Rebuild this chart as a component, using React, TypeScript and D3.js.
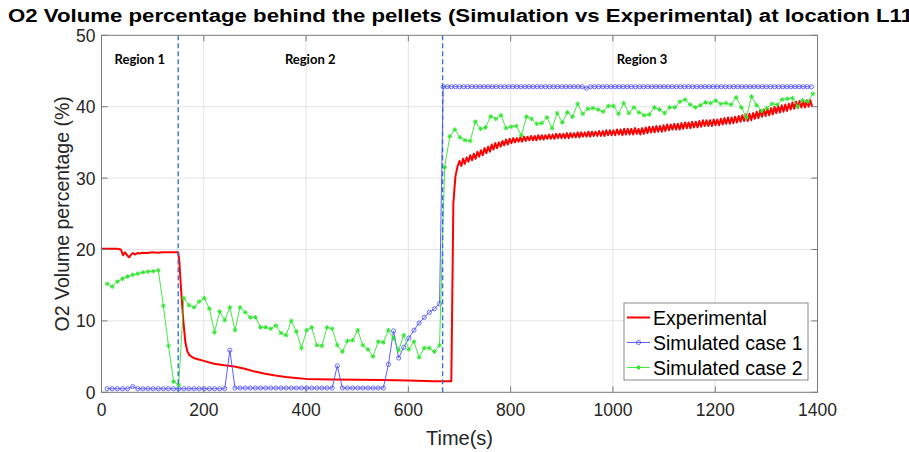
import React from "react";
import * as d3 from "d3";

// ---- Data ---------------------------------------------------------------

// Experimental O2 reading, smooth part (regions 1 and 2 plus the step up)
const expTime = [
  0, 10, 20, 30, 38, 42, 46, 50, 54, 58, 62, 66, 70, 75, 80, 90, 100, 110, 120,
  130, 140, 150, 152, 156, 160, 164, 168, 172, 180, 190, 200, 220, 240, 260,
  280, 300, 320, 340, 360, 380, 400, 450, 500, 550, 600, 650, 684, 686, 688,
  692, 696,
];
const expValue = [
  20.1, 20.1, 20.1, 20.1, 20.0, 19.2, 19.6, 19.2, 18.9, 19.3, 19.5, 19.3, 19.5,
  19.45, 19.55, 19.5, 19.6, 19.55, 19.6, 19.6, 19.6, 19.6, 18.5, 14.0, 10.0,
  7.0, 5.7, 5.2, 4.8, 4.6, 4.4, 4.0, 3.8, 3.6, 3.3, 2.9, 2.6, 2.35, 2.15, 2.0,
  1.88, 1.8, 1.75, 1.72, 1.65, 1.55, 1.55, 14.0, 26.5, 30.2, 31.6,
];

// Experimental reading in region 3, logged every 3.5 s from t = 700 s
const expRippleStart = 700;
const expRippleStep = 3.5;
const expRippleValue = [
  32.4, 31.7, 32.7, 32.0, 32.9, 32.3, 33.2, 32.5, 33.4, 32.7,
  33.7, 33.0, 33.9, 33.2, 34.2, 33.5, 34.4, 33.7, 34.7, 34.0,
  34.9, 34.2, 35.0, 34.4, 35.2, 34.6, 35.4, 34.7, 35.5, 34.9,
  35.6, 35.0, 35.6, 35.1, 35.7, 35.1, 35.8, 35.2, 35.8, 35.3,
  35.9, 35.3, 35.9, 35.3, 36.0, 35.4, 36.0, 35.4, 36.0, 35.5,
  36.1, 35.5, 36.1, 35.5, 36.2, 35.6, 36.2, 35.6, 36.2, 35.6,
  36.3, 35.6, 36.3, 35.7, 36.3, 35.7, 36.4, 35.7, 36.4, 35.8,
  36.4, 35.8, 36.5, 35.8, 36.5, 35.9, 36.5, 35.9, 36.6, 35.9,
  36.6, 35.9, 36.7, 36.0, 36.7, 36.0, 36.7, 36.0, 36.8, 36.1,
  36.8, 36.0, 36.9, 36.1, 36.9, 36.1, 36.9, 36.1, 37.0, 36.2,
  36.9, 36.1, 37.0, 36.2, 37.1, 36.3, 37.2, 36.4, 37.2, 36.4,
  37.3, 36.5, 37.3, 36.5, 37.4, 36.6, 37.5, 36.7, 37.5, 36.8,
  37.6, 36.8, 37.6, 36.8, 37.7, 36.9, 37.8, 37.0, 37.8, 37.0,
  37.9, 37.1, 37.9, 37.1, 38.0, 37.2, 38.1, 37.3, 38.1, 37.3,
  38.1, 37.3, 38.2, 37.4, 38.2, 37.4, 38.3, 37.5, 38.4, 37.6,
  38.5, 37.6, 38.5, 37.7, 38.6, 37.8, 38.7, 37.9, 38.8, 38.0,
  38.9, 38.0, 39.0, 38.1, 39.1, 38.3, 39.3, 38.4, 39.5, 38.6,
  39.6, 38.7, 39.7, 38.8, 39.8, 38.9, 40.0, 39.1, 40.1, 39.2,
  40.2, 39.3, 40.3, 39.4, 40.4, 39.6, 40.6, 39.7, 40.7, 39.8,
  40.8, 39.9, 40.8, 39.9, 40.9, 40.0, 40.9, 40.0,
];

// Simulated case 1: every 10 s from t = 11 s up to 661 s ...
const caseOneEarlyStart = 11;
const caseOneEarlyStep = 10;
const caseOneEarlyValue = [
  0.5, 0.5, 0.5, 0.5, 0.5, 0.8, 0.5, 0.5, 0.5, 0.5, 0.5, 0.5, 0.5, 0.5, 0.5,
  0.5, 0.5, 0.5, 0.5, 0.5, 0.5, 0.5, 0.5, 0.5, 5.9, 0.6, 0.6, 0.6, 0.6, 0.6,
  0.6, 0.6, 0.6, 0.6, 0.6, 0.6, 0.6, 0.6, 0.6, 0.6, 0.6, 0.6, 0.6, 0.6, 0.6,
  3.7, 0.6, 0.6, 0.6, 0.6, 0.6, 0.6, 0.6, 0.6, 0.6, 3.9, 8.6, 4.8, 6.3, 7.6,
  8.7, 9.7, 10.5, 11.2, 11.7, 12.4,
];
// ... then every 8 s from t = 668 s
const caseOneLateStart = 668;
const caseOneLateStep = 8;
const caseOneLateValue = [
  42.8, 42.8, 42.8, 42.8, 42.8, 42.8, 42.8, 42.8, 42.8, 42.8,
  42.8, 42.8, 42.8, 42.8, 42.8, 42.8, 42.8, 42.8, 42.8, 42.8,
  42.8, 42.8, 42.8, 42.8, 42.8, 42.8, 42.8, 42.8, 42.8, 42.8,
  42.8, 42.8, 42.8, 42.8, 42.8, 42.6, 42.8, 42.8, 42.8, 42.8,
  42.8, 42.8, 42.8, 42.8, 42.8, 42.8, 42.8, 42.8, 42.8, 42.8,
  42.8, 42.8, 42.8, 42.8, 42.8, 42.8, 42.8, 42.8, 42.8, 42.8,
  42.8, 42.8, 42.8, 42.8, 42.8, 42.8, 42.8, 42.8, 42.8, 42.8,
  42.8, 42.8, 42.8, 42.8, 42.8, 42.8, 42.8, 42.8, 42.8, 42.8,
  42.8, 42.8, 42.8, 42.8, 42.8, 42.8, 42.8, 42.8, 42.8, 42.8,
  42.8,
];

// Simulated case 2: every 10 s from t = 11 s
const caseTwoStart = 11;
const caseTwoStep = 10;
const caseTwoValue = [
  15.2, 14.8, 15.5, 15.9, 16.2, 16.45, 16.6, 16.8, 16.9, 16.95,
  17.1, 12.1, 6.5, 1.5, 1.0, 13.2, 12.2, 11.9, 12.7, 13.2,
  11.7, 8.4, 11.3, 10.1, 11.9, 8.7, 11.9, 11.2, 10.5, 10.5,
  9.1, 9.1, 8.9, 9.35, 8.3, 8.0, 10.0, 8.5, 6.2, 8.7,
  9.1, 6.6, 6.5, 9.1, 8.9, 6.6, 5.7, 7.2, 7.3, 8.7,
  6.6, 6.0, 5.0, 7.1, 7.0, 8.7, 7.6, 5.9, 8.0, 6.0,
  7.1, 4.9, 6.2, 6.2, 5.7, 6.6, 31.5, 35.85, 36.8, 35.7,
  35.3, 35.2, 37.9, 36.9, 37.1, 38.65, 38.3, 38.8, 37.0, 37.2,
  37.3, 36.0, 38.6, 38.3, 37.6, 37.7, 38.5, 37.0, 39.1, 37.8,
  39.2, 38.6, 40.4, 39.0, 39.7, 39.8, 39.6, 39.3, 40.1, 40.1,
  39.0, 40.5, 39.1, 39.9, 39.2, 38.8, 38.9, 39.9, 39.6, 39.1,
  39.9, 39.9, 40.7, 41.0, 40.3, 39.9, 40.2, 40.6, 40.5, 40.85,
  40.4, 40.5, 40.3, 41.3, 39.9, 38.5, 41.4, 40.2, 39.4, 39.8,
  40.4, 40.3, 41.0, 41.1, 41.2, 40.0, 40.9, 40.7, 41.8,
];

// Region boundaries (s) and labels
const regionBounds = [150, 667];
const regionLabels = ["Region 1", "Region 2", "Region 3"];
const regionLabelTime = [75, 408, 1057];

const xTicks = [0, 200, 400, 600, 800, 1000, 1200, 1400];
const yTicks = [0, 10, 20, 30, 40, 50];

const seriesNames = ["Experimental", "Simulated case 1", "Simulated case 2"];

// ---- Layout --------------------------------------------------------------

const W = 909;
const H = 452;
const plot = { left: 101.5, right: 817.5, top: 35.3, bottom: 392.3 };

const FONT = "'Liberation Sans', Arial, Helvetica, sans-serif";
const RED = "#ff0000";
const BLUE = "#4d4dff";
const GREEN = "#2ee62e";
const DASH = "#3a70d4";

type Pt = [number, number];

const stepped = (start: number, step: number, vals: number[]): Pt[] =>
  vals.map((v, i) => [start + step * i, v]);

const expSeries: Pt[] = [
  ...expTime.map((t, i) => [t, expValue[i]] as Pt),
  ...stepped(expRippleStart, expRippleStep, expRippleValue),
];
const caseOneSeries: Pt[] = [
  ...stepped(caseOneEarlyStart, caseOneEarlyStep, caseOneEarlyValue),
  ...stepped(caseOneLateStart, caseOneLateStep, caseOneLateValue),
];
const caseTwoSeries: Pt[] = stepped(caseTwoStart, caseTwoStep, caseTwoValue);

const starPath = (r: number) => {
  const d = r * 0.72;
  return `M${-r},0H${r}M0,${-r}V${r}M${-d},${-d}L${d},${d}M${-d},${d}L${d},${-d}`;
};

export default function App() {
  const x = d3.scaleLinear().domain([0, 1400]).range([plot.left, plot.right]);
  const y = d3.scaleLinear().domain([0, 50]).range([plot.bottom, plot.top]);
  const line = d3
    .line<Pt>()
    .x((d) => x(d[0]))
    .y((d) => y(d[1]));

  const tickLen = 6;
  const legend = { x: 624, y: 303, w: 184, h: 77 };
  const legendRows = [317.5, 342.5, 367.5];

  return (
    <svg
      width={W}
      height={H}
      viewBox={`0 0 ${W} ${H}`}
      style={{ position: "absolute", left: 0, top: 0, background: "#fff" }}
    >
      <rect x={0} y={0} width={W} height={H} fill="#fff" />

      {/* grid */}
      <g stroke="#e3e3e3" strokeWidth={1}>
        {xTicks.slice(1, -1).map((t) => (
          <line key={`gx${t}`} x1={x(t)} x2={x(t)} y1={plot.top} y2={plot.bottom} />
        ))}
        {yTicks.slice(1, -1).map((t) => (
          <line key={`gy${t}`} x1={plot.left} x2={plot.right} y1={y(t)} y2={y(t)} />
        ))}
      </g>

      {/* data */}
      <path d={line(expSeries) ?? ""} fill="none" stroke={RED} strokeWidth={2} strokeLinejoin="round" />
      <path d={line(caseOneSeries) ?? ""} fill="none" stroke={BLUE} strokeWidth={0.9} />
      <g fill="none" stroke={BLUE} strokeWidth={0.8}>
        {caseOneSeries.map((d, i) => (
          <circle key={`c1${i}`} cx={x(d[0])} cy={y(d[1])} r={2.1} />
        ))}
      </g>
      <path d={line(caseTwoSeries) ?? ""} fill="none" stroke={GREEN} strokeWidth={0.9} />
      <g fill="none" stroke={GREEN} strokeWidth={1}>
        {caseTwoSeries.map((d, i) => (
          <path key={`c2${i}`} transform={`translate(${x(d[0])},${y(d[1])})`} d={starPath(2.3)} />
        ))}
      </g>

      {/* region boundaries */}
      <g stroke={DASH} strokeWidth={1.4} strokeDasharray="5,3">
        {regionBounds.map((t) => (
          <line key={`rb${t}`} x1={x(t)} x2={x(t)} y1={plot.top} y2={plot.bottom} />
        ))}
      </g>
      <g fontFamily="Lato, 'Open Sans', sans-serif" fontWeight="bold" fontSize={13} fill="#000" textAnchor="middle">
        {regionLabels.map((s, i) => (
          <text key={s} x={x(regionLabelTime[i])} y={64}>
            {s}
          </text>
        ))}
      </g>

      {/* axes box and ticks */}
      <rect
        x={plot.left}
        y={plot.top}
        width={plot.right - plot.left}
        height={plot.bottom - plot.top}
        fill="none"
        stroke="#7a7a7a"
        strokeWidth={1}
      />
      <g stroke="#7a7a7a" strokeWidth={1}>
        {xTicks.map((t) => (
          <g key={`tx${t}`}>
            <line x1={x(t)} x2={x(t)} y1={plot.bottom} y2={plot.bottom - tickLen} />
            <line x1={x(t)} x2={x(t)} y1={plot.top} y2={plot.top + tickLen} />
          </g>
        ))}
        {yTicks.map((t) => (
          <g key={`ty${t}`}>
            <line x1={plot.left} x2={plot.left + tickLen} y1={y(t)} y2={y(t)} />
            <line x1={plot.right} x2={plot.right - tickLen} y1={y(t)} y2={y(t)} />
          </g>
        ))}
      </g>
      <g fontFamily={FONT} fontSize={17.5} fill="#262626">
        {xTicks.map((t) => (
          <text key={`lx${t}`} x={x(t)} y={plot.bottom + 24} textAnchor="middle">
            {t}
          </text>
        ))}
        {yTicks.map((t) => (
          <text key={`ly${t}`} x={plot.left - 6} y={y(t) + 6.5} textAnchor="end">
            {t}
          </text>
        ))}
      </g>

      {/* axis titles */}
      <text x={459.5} y={445} textAnchor="middle" fontFamily={FONT} fontSize={20} fill="#262626">
        Time(s)
      </text>
      <text
        transform={`translate(69,${(plot.top + plot.bottom) / 2}) rotate(-90)`}
        textAnchor="middle"
        fontFamily={FONT}
        fontSize={19.5}
        fill="#262626"
      >
        O2 Volume percentage (%)
      </text>

      {/* title */}
      <text
        x={8}
        y={22}
        fontFamily={FONT}
        fontWeight="bold"
        fontSize={17.5}
        fill="#000"
        textLength={905}
        lengthAdjust="spacingAndGlyphs"
      >
        O2 Volume percentage behind the pellets (Simulation vs Experimental) at location L11
      </text>

      {/* legend */}
      <rect x={legend.x} y={legend.y} width={legend.w} height={legend.h} fill="#fff" stroke="#8a8a8a" strokeWidth={1} />
      <g>
        <line x1={627} x2={650} y1={legendRows[0]} y2={legendRows[0]} stroke={RED} strokeWidth={2} />
        <line x1={627} x2={650} y1={legendRows[1]} y2={legendRows[1]} stroke={BLUE} strokeWidth={0.9} />
        <circle cx={638.5} cy={legendRows[1]} r={2.1} fill="none" stroke={BLUE} strokeWidth={0.8} />
        <line x1={627} x2={650} y1={legendRows[2]} y2={legendRows[2]} stroke={GREEN} strokeWidth={0.9} />
        <path transform={`translate(638.5,${legendRows[2]})`} d={starPath(2.3)} fill="none" stroke={GREEN} strokeWidth={1} />
      </g>
      <g fontFamily={FONT} fontSize={19.5} fill="#000">
        {seriesNames.map((s, i) => (
          <text key={s} x={653} y={legendRows[i] + 7}>
            {s}
          </text>
        ))}
      </g>
    </svg>
  );
}
